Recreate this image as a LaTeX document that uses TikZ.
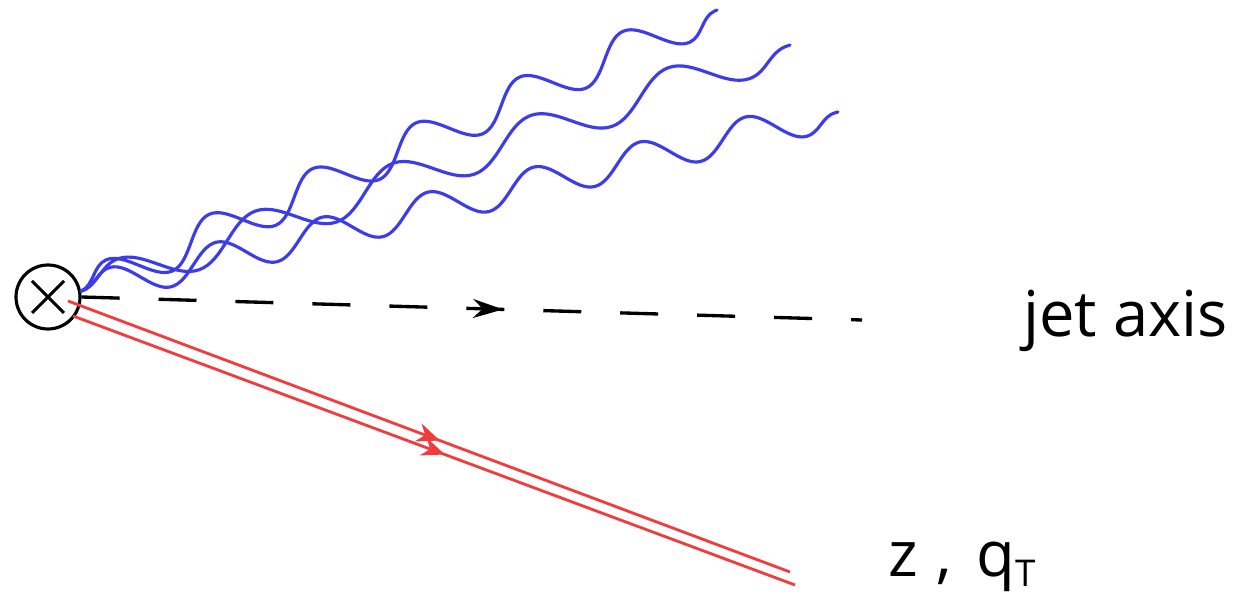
\documentclass[tikz,border=0pt]{standalone}
\usepackage{fontspec}
\newfontfamily\labelfont{Open Sans}
\usetikzlibrary{arrows.meta,calc,decorations.pathmorphing,decorations.markings}
\definecolor{gluonblue}{HTML}{3C3CEA}
\definecolor{hadred}{HTML}{F03C3C}

\begin{document}
\begin{tikzpicture}[
  x=0.02cm, y=-0.02cm,
  vertex/.style={circle, draw=black, line width=1.8pt,
                 minimum size=1.28cm, inner sep=0pt},
  gluon/.style={draw=gluonblue, line width=1.8pt, line cap=round,
                decorate, decoration={snake}},
  axisline/.style={draw=black, line width=1.9pt,
                   dash pattern=on 0.76cm off 0.78cm},
  hadron/.style={draw=hadred, line width=1.6pt},
  midarrow/.style={postaction={decorate, decoration={markings,
                   mark=at position #1 with {\arrow{Stealth[length=0.6cm, width=0.38cm]}}}}},
  hadarrow/.style={postaction={decorate, decoration={markings,
                   mark=at position #1 with {\arrow{Stealth[length=0.46cm, width=0.38cm]}}}}},
  lbl/.style={font=\labelfont\fontsize{36}{43}\selectfont, inner sep=0pt},
]
\useasboundingbox (0,0) rectangle (1238,597);

% Vertex
\node[vertex] (vtx) at (48,297) {};
\draw[line width=1.8pt] (vtx.center) +(-16,-16) -- +(16,16)
                        (vtx.center) +(-16,16) -- +(16,-16);

% End points
\coordinate (g1) at (717,10);
\coordinate (g2) at (790,45);
\coordinate (g3) at (838,112);
\coordinate (axisend) at (862,320);
\coordinate (hadA) at ($(vtx.center)+(20,4)$);
\coordinate (hadB) at ($(vtx.center)+(25,19)$);
\coordinate (hadAend) at (790,572);
\coordinate (hadBend) at (795,585);

% Gluons
\foreach \g/\seg/\amp in {g1/2.262/0.37, g2/2.915/0.37, g3/2.177/0.33}
  \draw[gluon, decoration={segment length=\seg cm, amplitude=\amp cm}] (vtx.10) -- (\g);

% Jet axis
\draw[axisline, midarrow=0.54] (vtx.east) -- (axisend);

% Hadron
\draw[hadron, hadarrow=0.515] (hadA) -- (hadAend);
\draw[hadron, hadarrow=0.515] (hadB) -- (hadBend);

% Labels
\node[lbl, anchor=base west] (jetlbl) at (1023,337) {jet axis};
\node[lbl, anchor=base west] (zlbl) at (888,577)
  {z\hspace{0.38cm},\hspace{0.48cm}q\raisebox{-0.2cm}{\fontsize{21}{21}\selectfont T}};
\end{tikzpicture}
\end{document}
